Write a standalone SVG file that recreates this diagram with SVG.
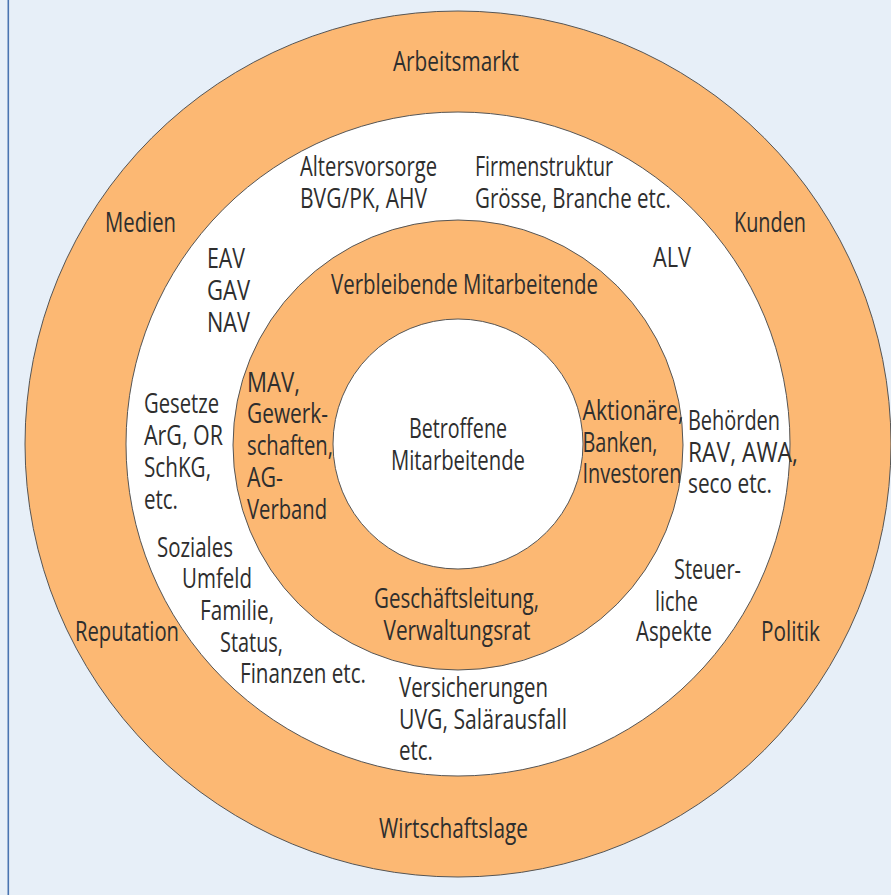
<svg xmlns="http://www.w3.org/2000/svg" width="891" height="895" viewBox="0 0 891 895">
  <style>
    .bg { fill: #e7eff8; }
    .orange { fill: #fcb873; stroke: #555555; stroke-width: 1; }
    .white { fill: #ffffff; stroke: #555555; stroke-width: 1; }
    text { font-family: "Open Sans", "Noto Sans", sans-serif; font-size: 26.5px; fill: #2e2e2e; }
    .c { text-anchor: middle; }
  </style>
  <rect class="bg" x="0" y="0" width="891" height="895"/>
  <line x1="8.3" y1="0" x2="8.3" y2="895" stroke="#4a74b0" stroke-width="1.6"/>

  <g id="ring-outer"><circle class="orange" cx="458" cy="444" r="433"/></g>
  <g id="ring-middle"><circle class="white" cx="458" cy="444" r="332"/></g>
  <g id="ring-inner"><circle class="orange" cx="458" cy="445" r="225"/></g>
  <g id="core"><circle class="white" cx="458" cy="444" r="125"/></g>

  <g id="arbeitsmarkt"><text class="c" x="456" y="71" textLength="126" lengthAdjust="spacingAndGlyphs">Arbeitsmarkt</text></g>
  <g id="medien"><text class="c" x="140.5" y="232" textLength="71" lengthAdjust="spacingAndGlyphs">Medien</text></g>
  <g id="kunden"><text class="c" x="770" y="232" textLength="72" lengthAdjust="spacingAndGlyphs">Kunden</text></g>
  <g id="reputation"><text class="c" x="127" y="641" textLength="104" lengthAdjust="spacingAndGlyphs">Reputation</text></g>
  <g id="politik"><text class="c" x="790.5" y="641" textLength="59" lengthAdjust="spacingAndGlyphs">Politik</text></g>
  <g id="wirtschaftslage"><text class="c" x="453.5" y="838" textLength="149" lengthAdjust="spacingAndGlyphs">Wirtschaftslage</text></g>

  <g id="altersvorsorge">
    <text x="300" y="176" textLength="137" lengthAdjust="spacingAndGlyphs">Altersvorsorge</text>
    <text x="300" y="208" textLength="127" lengthAdjust="spacingAndGlyphs">BVG/PK, AHV</text>
  </g>
  <g id="firmenstruktur">
    <text x="475" y="176" textLength="138" lengthAdjust="spacingAndGlyphs">Firmenstruktur</text>
    <text x="475" y="208" textLength="196" lengthAdjust="spacingAndGlyphs">Grösse, Branche etc.</text>
  </g>
  <g id="alv"><text x="653" y="267" textLength="38" lengthAdjust="spacingAndGlyphs">ALV</text></g>
  <g id="eav">
    <text x="207" y="268" textLength="38" lengthAdjust="spacingAndGlyphs">EAV</text>
    <text x="207" y="300" textLength="43" lengthAdjust="spacingAndGlyphs">GAV</text>
    <text x="207" y="332" textLength="43" lengthAdjust="spacingAndGlyphs">NAV</text>
  </g>
  <g id="gesetze">
    <text x="144" y="413" textLength="75" lengthAdjust="spacingAndGlyphs">Gesetze</text>
    <text x="144" y="445" textLength="79" lengthAdjust="spacingAndGlyphs">ArG, OR</text>
    <text x="144" y="477" textLength="67" lengthAdjust="spacingAndGlyphs">SchKG,</text>
    <text x="144" y="509" textLength="34" lengthAdjust="spacingAndGlyphs">etc.</text>
  </g>
  <g id="soziales">
    <text x="157" y="556.5" textLength="76" lengthAdjust="spacingAndGlyphs">Soziales</text>
    <text x="182" y="588" textLength="70" lengthAdjust="spacingAndGlyphs">Umfeld</text>
    <text x="200" y="620" textLength="74" lengthAdjust="spacingAndGlyphs">Familie,</text>
    <text x="220" y="651.5" textLength="63" lengthAdjust="spacingAndGlyphs">Status,</text>
    <text x="240" y="683" textLength="126" lengthAdjust="spacingAndGlyphs">Finanzen etc.</text>
  </g>
  <g id="versicherungen">
    <text x="399" y="697" textLength="149" lengthAdjust="spacingAndGlyphs">Versicherungen</text>
    <text x="399" y="728.5" textLength="168" lengthAdjust="spacingAndGlyphs">UVG, Salärausfall</text>
    <text x="399" y="760" textLength="34" lengthAdjust="spacingAndGlyphs">etc.</text>
  </g>
  <g id="steuer">
    <text x="674" y="579" textLength="67" lengthAdjust="spacingAndGlyphs">Steuer-</text>
    <text x="655" y="611" textLength="43" lengthAdjust="spacingAndGlyphs">liche</text>
    <text x="636" y="641" textLength="76" lengthAdjust="spacingAndGlyphs">Aspekte</text>
  </g>
  <g id="behoerden">
    <text x="688" y="430" textLength="92" lengthAdjust="spacingAndGlyphs">Behörden</text>
    <text x="688" y="461.5" textLength="110" lengthAdjust="spacingAndGlyphs">RAV, AWA,</text>
    <text x="688" y="493" textLength="84" lengthAdjust="spacingAndGlyphs">seco etc.</text>
  </g>

  <g id="verbleibende"><text class="c" x="464.5" y="294" textLength="267" lengthAdjust="spacingAndGlyphs">Verbleibende Mitarbeitende</text></g>
  <g id="mav">
    <text x="247" y="391.5" textLength="53" lengthAdjust="spacingAndGlyphs">MAV,</text>
    <text x="247" y="423" textLength="81" lengthAdjust="spacingAndGlyphs">Gewerk-</text>
    <text x="247" y="455" textLength="86" lengthAdjust="spacingAndGlyphs">schaften,</text>
    <text x="247" y="486.5" textLength="36" lengthAdjust="spacingAndGlyphs">AG-</text>
    <text x="247" y="519" textLength="80" lengthAdjust="spacingAndGlyphs">Verband</text>
  </g>
  <g id="aktionaere">
    <text x="582.5" y="420" textLength="101" lengthAdjust="spacingAndGlyphs">Aktionäre,</text>
    <text x="582.5" y="451.5" textLength="75" lengthAdjust="spacingAndGlyphs">Banken,</text>
    <text x="582.5" y="483" textLength="99" lengthAdjust="spacingAndGlyphs">Investoren</text>
  </g>
  <g id="geschaeftsleitung">
    <text class="c" x="456.5" y="608" textLength="165" lengthAdjust="spacingAndGlyphs">Geschäftsleitung,</text>
    <text class="c" x="457" y="639.5" textLength="147" lengthAdjust="spacingAndGlyphs">Verwaltungsrat</text>
  </g>
  <g id="betroffene">
    <text class="c" x="458" y="438" textLength="98" lengthAdjust="spacingAndGlyphs">Betroffene</text>
    <text class="c" x="458" y="470" textLength="134" lengthAdjust="spacingAndGlyphs">Mitarbeitende</text>
  </g>
</svg>
